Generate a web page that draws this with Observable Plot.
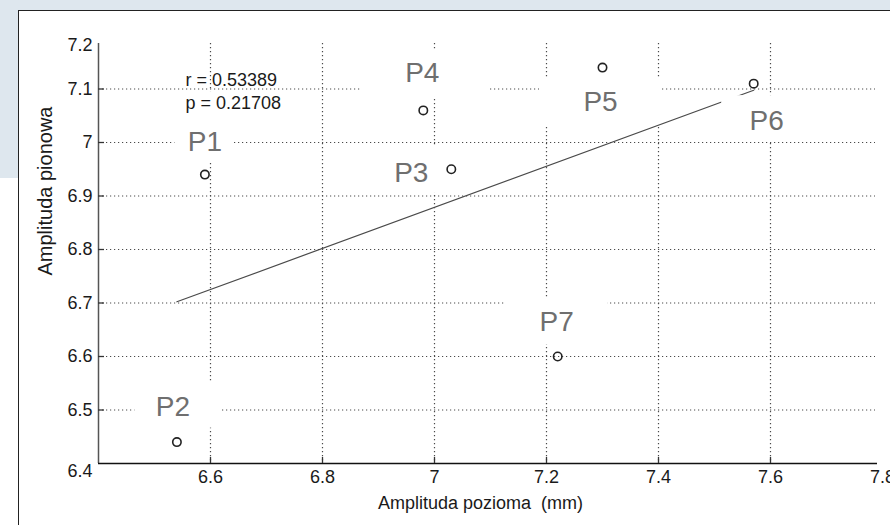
<!DOCTYPE html>
<html>
<head>
<meta charset="utf-8">
<script src="https://cdn.jsdelivr.net/npm/d3@7"></script>
<script src="https://cdn.jsdelivr.net/npm/@observablehq/plot@0.6"></script>
<style>
  html, body { margin: 0; padding: 0; background: #ffffff; }
  #wrap { position: relative; width: 890px; height: 525px; overflow: hidden; background: #ffffff; }
  #bgband { position: absolute; left: 0; top: 0; width: 890px; height: 178px; background: #dee7ee; }
  #panel { position: absolute; left: 18px; top: 10px; width: 880px; height: 530px; background: #ffffff;
           border-top: 1.5px solid #222; border-left: 1.5px solid #222; box-sizing: border-box; }
  #chart { position: absolute; left: 0; top: 0; }
</style>
</head>
<body>
<div id="wrap">
  <div id="bgband"></div>
  <div id="panel"></div>
  <div id="chart"></div>
</div>
<script>
// ---- data ----
const pointNames = ["P1", "P2", "P3", "P4", "P5", "P6", "P7"];
const amplitudaPozioma = [6.59, 6.54, 7.03, 6.98, 7.30, 7.57, 7.22];
const amplitudaPionowa = [6.94, 6.44, 6.95, 7.06, 7.14, 7.11, 6.60];

const xTicks = [6.6, 6.8, 7.0, 7.2, 7.4, 7.6, 7.8];
const xTickLabels = ["6.6", "6.8", "7", "7.2", "7.4", "7.6", "7.8"];
const yTicks = [6.4, 6.5, 6.6, 6.7, 6.8, 6.9, 7.0, 7.1, 7.2];
const yTickLabels = ["6.4", "6.5", "6.6", "6.7", "6.8", "6.9", "7", "7.1", "7.2"];
const xDomain = [6.4, 7.8];
const yDomain = [6.4, 7.2];

const statLines = ["r = 0.53389", "p = 0.21708"];
const xTitle = "Amplituda pozioma  (mm)";
const yTitle = "Amplituda pionowa";

// ---- styling: label offsets (px from the point) and white label boxes (px around the label) ----
const labelStyle = [
  {dx: 0,   dy: -33, L: 30, R: 29, T: 50, B: 20, front: false},
  {dx: -4,  dy: -35, L: 38, R: 49, T: 25, B: 21, front: false},
  {dx: -40, dy: 4,   L: 40, R: 34, T: 26, B: 20, front: false},
  {dx: -1,  dy: -37, L: 60, R: 68, T: 24, B: 24, front: false},
  {dx: -2,  dy: 34,  L: 61, R: 62, T: 24, B: 25, front: false},
  {dx: 13,  dy: 37,  L: 45, R: 45, T: 25, B: 21, front: true},
  {dx: -1,  dy: -34, L: 51, R: 51, T: 25, B: 22, front: false}
];

const points = pointNames.map((name, i) => ({name, x: amplitudaPozioma[i], y: amplitudaPionowa[i]}));
const xGrid = xTicks.filter(v => v < xDomain[1]);
const yGrid = yTicks.filter(v => v > yDomain[0] && v < yDomain[1]);
const yTickRows = yTicks.map((v, i) => ({v, label: yTickLabels[i]}));
const xTickRows = xTicks.map((v, i) => ({v, label: xTickLabels[i]}));

const gridStyle = {stroke: "#4a4a4a", strokeWidth: 1.2, strokeDasharray: "1.2,2.8"};
const font = "'Liberation Sans', Arial, sans-serif";
const ink = "#1a1a1a";

function labelBox(i) {
  const s = labelStyle[i];
  return Plot.rect([points[i]], {
    x1: "x", x2: "x", y1: "y", y2: "y",
    insetLeft: -(s.L - s.dx), insetRight: -(s.R + s.dx),
    insetTop: -(s.T - s.dy), insetBottom: -(s.B + s.dy),
    fill: "white"
  });
}
const backBoxes = points.map((p, i) => i).filter(i => !labelStyle[i].front).map(labelBox);
const frontBoxes = points.map((p, i) => i).filter(i => labelStyle[i].front).map(labelBox);
const labelTexts = points.map((p, i) => {
  const s = labelStyle[i];
  return Plot.text([p], {
    x: "x", y: "y", text: "name", dx: s.dx, dy: s.dy,
    fontSize: 28, fill: "#6f6f6f", lineAnchor: "middle", textAnchor: "middle"
  });
});

const chart = Plot.plot({
  width: 890,
  height: 525,
  marginLeft: 98,
  marginRight: 8,
  marginTop: 35,
  marginBottom: 62,
  x: {domain: xDomain, axis: null},
  y: {domain: yDomain, axis: null},
  style: {background: "transparent", fontFamily: font, overflow: "visible"},
  marks: [
    // dotted grid
    Plot.ruleX(xGrid, {x: d => d, y1: yDomain[1], y2: yDomain[0], insetTop: 8, ...gridStyle}),
    Plot.ruleY(yGrid, {y: d => d, x1: xDomain[0], x2: xDomain[1], insetRight: 7, ...gridStyle}),
    // white boxes behind labels
    ...backBoxes,
    // regression line
    Plot.linearRegressionY(points, {x: "x", y: "y", ci: 0, stroke: "#4a4a4a", strokeWidth: 1.2}),
    ...frontBoxes,
    // axes lines
    Plot.ruleX([xDomain[0]], {x: d => d, y1: yDomain[1], y2: yDomain[0], insetTop: 8, stroke: "#555", strokeWidth: 1.5}),
    Plot.ruleY([yDomain[0]], {y: d => d, x1: xDomain[0], x2: xDomain[1], insetRight: 5, stroke: "#111", strokeWidth: 1.5}),
    // inward ticks
    Plot.ruleX(xGrid, {x: d => d, y1: yDomain[0], y2: yDomain[0], insetBottom: 6, stroke: "#333", strokeWidth: 1.3}),
    Plot.ruleY(yGrid, {y: d => d, x1: xDomain[0], x2: xDomain[0], insetRight: -6, stroke: "#333", strokeWidth: 1.3}),
    // y tick labels
    Plot.text(yTickRows.filter(d => d.v > yDomain[0] && d.v < yDomain[1]), {
      x: xDomain[0], y: "v", text: "label", textAnchor: "end", dx: -6, fontSize: 18, fill: ink, lineAnchor: "middle"}),
    Plot.text(yTickRows.filter(d => d.v === yDomain[1]), {
      x: xDomain[0], y: "v", text: "label", textAnchor: "end", dx: -6, dy: 10, fontSize: 18, fill: ink, lineAnchor: "middle"}),
    Plot.text(yTickRows.filter(d => d.v === yDomain[0]), {
      x: xDomain[0], y: "v", text: "label", textAnchor: "end", dx: -6, dy: 8, fontSize: 18, fill: ink, lineAnchor: "middle"}),
    // x tick labels
    Plot.text(xTickRows, {
      x: "v", y: yDomain[0], text: "label", dy: 14, fontSize: 18, fill: ink, lineAnchor: "middle"}),
    // axis titles
    Plot.text([xTitle], {text: d => d, frameAnchor: "bottom", dx: -10, dy: 40, fontSize: 18, fill: ink, lineAnchor: "middle"}),
    Plot.text([yTitle], {text: d => d, frameAnchor: "left", rotate: -90, dx: -53, dy: 26, fontSize: 20, fill: ink, lineAnchor: "middle"}),
    // statistics
    Plot.text([statLines[0]], {text: d => d, frameAnchor: "top-left", textAnchor: "start", dx: 87, dy: 45,
      fontSize: 18, fill: ink, lineAnchor: "middle"}),
    Plot.text([statLines[1]], {text: d => d, frameAnchor: "top-left", textAnchor: "start", dx: 87, dy: 68,
      fontSize: 18, fill: ink, lineAnchor: "middle"}),
    // points
    Plot.dot(points, {x: "x", y: "y", r: 4.2, stroke: "#222", strokeWidth: 1.6, fill: "none"}),
    // point labels
    ...labelTexts
  ]
});
document.getElementById("chart").appendChild(chart);
</script>
</body>
</html>
